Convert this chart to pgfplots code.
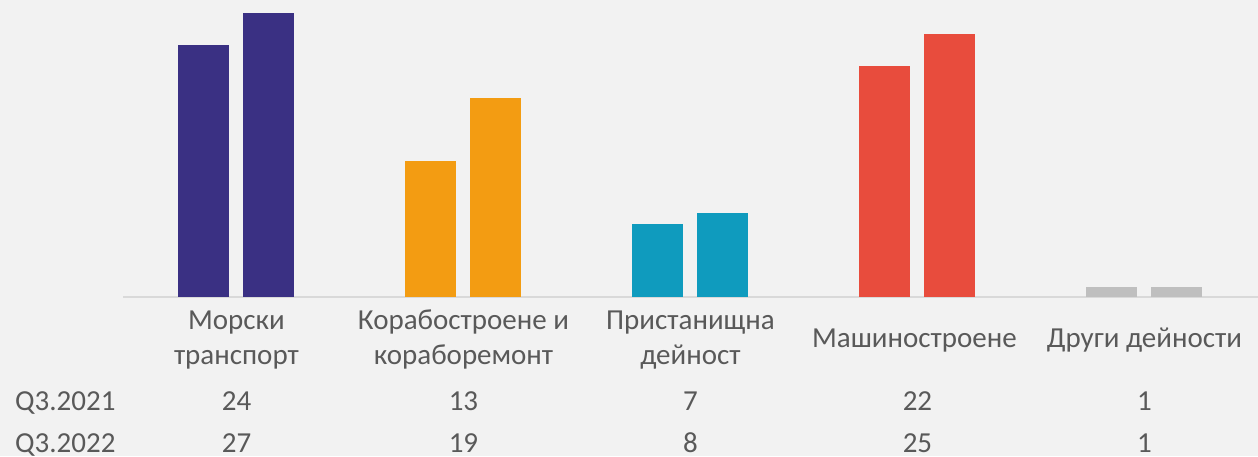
\documentclass[border=0pt]{standalone}
\usepackage{pgfplots}
\pgfplotsset{compat=1.18}
\usepackage{fontspec}
\setmainfont{Carlito}
\definecolor{bg}{HTML}{F2F2F2}
\definecolor{txt}{HTML}{595959}
\definecolor{axl}{HTML}{D9D9D9}
\definecolor{cA}{HTML}{3A3083}
\definecolor{cB}{HTML}{F39C12}
\definecolor{cC}{HTML}{0F9BBE}
\definecolor{cD}{HTML}{E84C3D}
\definecolor{cE}{HTML}{BFBFBF}
\begin{document}
\fontsize{29pt}{35pt}\selectfont
\begin{tikzpicture}[x=1pt,y=1pt,
  lab/.style={text=txt, inner sep=0pt, anchor=base, font=\fontsize{29pt}{35pt}\selectfont}]
\path[use as bounding box, fill=bg] (0,0) rectangle (1258,456);
\begin{axis}[
  at={(123pt,159pt)}, anchor=south west,
  scale only axis, width=1135pt, height=297pt,
  xmin=-0.5, xmax=4.5, ymin=0, ymax=28.2857,
  hide axis, ybar, clip=false,
]
\draw[axl, line width=2pt] (axis cs:-0.5,0) -- (axis cs:4.5,0);
% Q3.2021 (left) and Q3.2022 (right)
\addplot[fill=cA, draw=none, bar width=51pt, bar shift=-32.5pt] coordinates {(0,24)};
\addplot[fill=cA, draw=none, bar width=51pt, bar shift=32.5pt] coordinates {(0,27)};
\addplot[fill=cB, draw=none, bar width=51pt, bar shift=-32.5pt] coordinates {(1,13)};
\addplot[fill=cB, draw=none, bar width=51pt, bar shift=32.5pt] coordinates {(1,19)};
\addplot[fill=cC, draw=none, bar width=51pt, bar shift=-32.5pt] coordinates {(2,7)};
\addplot[fill=cC, draw=none, bar width=51pt, bar shift=32.5pt] coordinates {(2,8)};
\addplot[fill=cD, draw=none, bar width=51pt, bar shift=-32.5pt] coordinates {(3,22)};
\addplot[fill=cD, draw=none, bar width=51pt, bar shift=32.5pt] coordinates {(3,25)};
\addplot[fill=cE, draw=none, bar width=51pt, bar shift=-32.5pt] coordinates {(4,1)};
\addplot[fill=cE, draw=none, bar width=51pt, bar shift=32.5pt] coordinates {(4,1)};
% category labels
\node[lab] at ([yshift=-32pt]axis cs:0,0) {Морски};
\node[lab] at ([yshift=-67pt]axis cs:0,0) {транспорт};
\node[lab] at ([yshift=-32pt]axis cs:1,0) {Корабостроене и};
\node[lab] at ([yshift=-67pt]axis cs:1,0) {кораборемонт};
\node[lab] at ([yshift=-32pt]axis cs:2,0) {Пристанищна};
\node[lab] at ([yshift=-67pt]axis cs:2,0) {дейност};
\node[lab] at ([yshift=-50pt,xshift=-3pt]axis cs:3,0) {Машиностроене};
\node[lab] at ([yshift=-50pt]axis cs:4,0) {Други дейности};
% data table
\node[lab] at ([yshift=-113pt]axis cs:0,0) {24};
\node[lab] at ([yshift=-113pt]axis cs:1,0) {13};
\node[lab] at ([yshift=-113pt]axis cs:2,0) {7};
\node[lab] at ([yshift=-113pt]axis cs:3,0) {22};
\node[lab] at ([yshift=-113pt]axis cs:4,0) {1};
\node[lab] at ([yshift=-155pt]axis cs:0,0) {27};
\node[lab] at ([yshift=-155pt]axis cs:1,0) {19};
\node[lab] at ([yshift=-155pt]axis cs:2,0) {8};
\node[lab] at ([yshift=-155pt]axis cs:3,0) {25};
\node[lab] at ([yshift=-155pt]axis cs:4,0) {1};
\end{axis}
\node[lab, anchor=base west] at (15,46) {Q3.2021};
\node[lab, anchor=base west] at (15,4) {Q3.2022};
\end{tikzpicture}
\end{document}
